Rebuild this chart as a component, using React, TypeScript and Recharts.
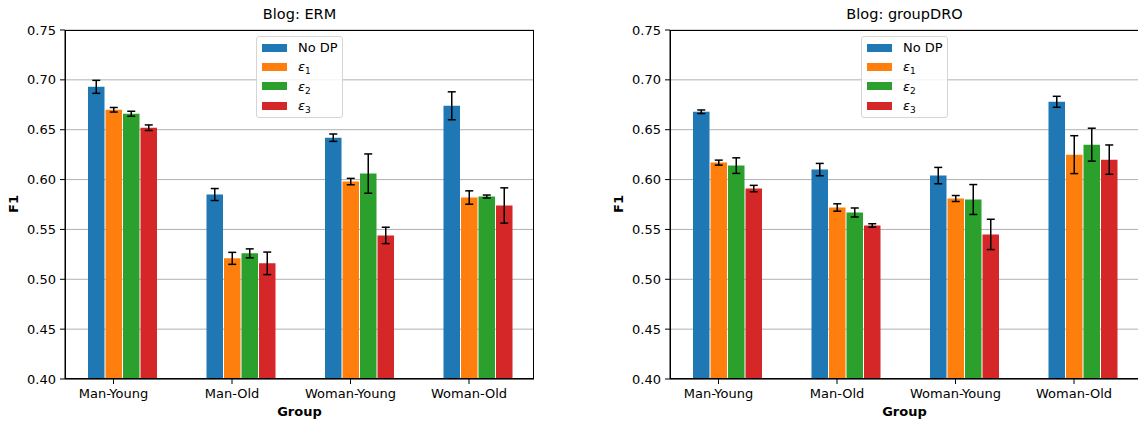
import { BarChart, Bar, XAxis, YAxis, CartesianGrid, Legend, ErrorBar } from "recharts";

const groups = ["Man-Young", "Man-Old", "Woman-Young", "Woman-Old"];
const yTicks = [0.4, 0.45, 0.5, 0.55, 0.6, 0.65, 0.7, 0.75];

// Blog: ERM
const ermNoDp = [0.693, 0.585, 0.642, 0.674];
const ermNoDpErr = [0.0065, 0.006, 0.0037, 0.014];
const ermEps1 = [0.670, 0.521, 0.598, 0.582];
const ermEps1Err = [0.0023, 0.006, 0.0032, 0.0067];
const ermEps2 = [0.666, 0.526, 0.606, 0.583];
const ermEps2Err = [0.0025, 0.0045, 0.0197, 0.0015];
const ermEps3 = [0.652, 0.516, 0.544, 0.574];
const ermEps3Err = [0.0028, 0.0113, 0.0082, 0.0177];

// Blog: groupDRO
const droNoDp = [0.668, 0.610, 0.604, 0.678];
const droNoDpErr = [0.0018, 0.0062, 0.0082, 0.0055];
const droEps1 = [0.617, 0.572, 0.581, 0.625];
const droEps1Err = [0.0025, 0.0037, 0.003, 0.019];
const droEps2 = [0.614, 0.567, 0.580, 0.635];
const droEps2Err = [0.0078, 0.0045, 0.015, 0.0165];
const droEps3 = [0.591, 0.554, 0.545, 0.620];
const droEps3Err = [0.0032, 0.0017, 0.0152, 0.0147];

const COLORS = ["#1f77b4", "#ff7f0e", "#2ca02c", "#d62728"];
const FONT = "DejaVu Sans";
const TICK_FS = 13;
const BAR_W = 16.5;
const BAR_GAP = 1;

function buildRows(v0: number[], e0: number[], v1: number[], e1: number[], v2: number[], e2: number[], v3: number[], e3: number[]) {
  return groups.map((g, i) => ({
    group: g,
    noDp: v0[i], noDpErr: e0[i],
    eps1: v1[i], eps1Err: e1[i],
    eps2: v2[i], eps2Err: e2[i],
    eps3: v3[i], eps3Err: e3[i],
  }));
}

const ermData = buildRows(ermNoDp, ermNoDpErr, ermEps1, ermEps1Err, ermEps2, ermEps2Err, ermEps3, ermEps3Err);
const droData = buildRows(droNoDp, droNoDpErr, droEps1, droEps1Err, droEps2, droEps2Err, droEps3, droEps3Err);

// matplotlib puts the tick at the 2nd bar of each group
const TICK_SHIFT = -(BAR_W + BAR_GAP) / 2;

function GroupTick(props: any) {
  const { x, y, payload } = props;
  return (
    <g transform={`translate(${x + TICK_SHIFT},${y})`}>
      <line x1={0} y1={0} x2={0} y2={5} stroke="#000" strokeWidth={1} />
      <text x={0} y={9} dy="0.74em" textAnchor="middle" fontSize={TICK_FS} fontFamily={FONT} fill="#000">
        {payload.value}
      </text>
    </g>
  );
}

function Eps({ n }: { n: number }) {
  return (
    <span>
      <span style={{ fontStyle: "italic" }}>ε</span>
      <span style={{ fontSize: 9, position: "relative", top: 3 }}>{n}</span>
    </span>
  );
}

const legendItems = [
  { color: COLORS[0], label: <span>No DP</span> },
  { color: COLORS[1], label: <Eps n={1} /> },
  { color: COLORS[2], label: <Eps n={2} /> },
  { color: COLORS[3], label: <Eps n={3} /> },
];

function LegendBox() {
  return (
    <div
      style={{
        width: 85,
        height: 79,
        border: "1px solid #d5d5d5",
        borderRadius: 3,
        background: "rgba(255,255,255,0.85)",
        paddingTop: 1,
        boxSizing: "content-box",
        fontFamily: FONT,
        fontSize: TICK_FS,
        color: "#000",
      }}
    >
      {legendItems.map((it, i) => (
        <div key={i} style={{ display: "flex", alignItems: "center", height: 19.3 }}>
          <div style={{ marginLeft: 5, width: 25, height: 8, background: it.color }} />
          <div style={{ marginLeft: 11, lineHeight: 1 }}>{it.label}</div>
        </div>
      ))}
    </div>
  );
}

function Panel({ data, title, left }: { data: any[]; title: string; left: number }) {
  return (
    <div style={{ position: "absolute", left, top: 0, width: 569, height: 421 }}>
      <div
        style={{
          position: "absolute", left: 65, width: 469, top: 6, textAlign: "center",
          fontFamily: FONT, fontSize: 14.5, color: "#000",
        }}
      >
        {title}
      </div>
      <div
        style={{
          position: "absolute", left: 65, width: 469, top: 404, textAlign: "center",
          fontFamily: FONT, fontSize: 13, fontWeight: "bold", color: "#000", lineHeight: "15px",
        }}
      >
        Group
      </div>
      <div
        style={{
          position: "absolute", left: 13, top: 204, transform: "translate(-50%,-50%) rotate(-90deg)",
          fontFamily: FONT, fontSize: 13, fontWeight: "bold", color: "#000",
        }}
      >
        F1
      </div>
      <BarChart
        width={569}
        height={421}
        data={data}
        margin={{ top: 30, right: 35, bottom: 0, left: 0 }}
        barCategoryGap={24}
        barGap={BAR_GAP}
        barSize={BAR_W}
      >
        <CartesianGrid vertical={false} stroke="#b0b0b0" strokeWidth={1} />
        <XAxis
          dataKey="group"
          height={42}
          padding={{ left: -2, right: -3 }}
          axisLine={{ stroke: "#000", strokeWidth: 1 }}
          tickLine={false}
          tickSize={0}
          tickMargin={0}
          tick={<GroupTick />}
          interval={0}
        />
        <YAxis
          width={65}
          domain={[0.4, 0.75]}
          ticks={yTicks}
          interval={0}
          tickFormatter={(v: number) => v.toFixed(2)}
          tick={{ fontSize: TICK_FS, fontFamily: FONT, fill: "#000" }}
          tickSize={5}
          tickMargin={4}
          tickLine={{ stroke: "#000" }}
          axisLine={{ stroke: "#000", strokeWidth: 1 }}
        />
        <Legend
          layout="vertical"
          align="center"
          verticalAlign="middle"
          content={<LegendBox />}
          wrapperStyle={{ top: 36, left: 256, width: 87 }}
        />
        <Bar dataKey="noDp" name="No DP" fill={COLORS[0]} isAnimationActive={false}>
          <ErrorBar dataKey="noDpErr" width={4} stroke="#000" strokeWidth={1.5} />
        </Bar>
        <Bar dataKey="eps1" name="ε1" fill={COLORS[1]} isAnimationActive={false}>
          <ErrorBar dataKey="eps1Err" width={4} stroke="#000" strokeWidth={1.5} />
        </Bar>
        <Bar dataKey="eps2" name="ε2" fill={COLORS[2]} isAnimationActive={false}>
          <ErrorBar dataKey="eps2Err" width={4} stroke="#000" strokeWidth={1.5} />
        </Bar>
        <Bar dataKey="eps3" name="ε3" fill={COLORS[3]} isAnimationActive={false}>
          <ErrorBar dataKey="eps3Err" width={4} stroke="#000" strokeWidth={1.5} />
        </Bar>
      </BarChart>
      {/* axes frame (top/right spines) */}
      <div
        style={{
          position: "absolute", left: 65, top: 30, width: 469, height: 349,
          boxSizing: "border-box", border: "1px solid #000", pointerEvents: "none",
        }}
      />
    </div>
  );
}

export default function App() {
  return (
    <div
      style={{
        position: "absolute", left: 0, top: 0, width: 1138, height: 421,
        overflow: "hidden", background: "#fff", fontFamily: FONT,
      }}
    >
      <Panel data={ermData} title="Blog: ERM" left={0} />
      <Panel data={droData} title="Blog: groupDRO" left={605} />
    </div>
  );
}
